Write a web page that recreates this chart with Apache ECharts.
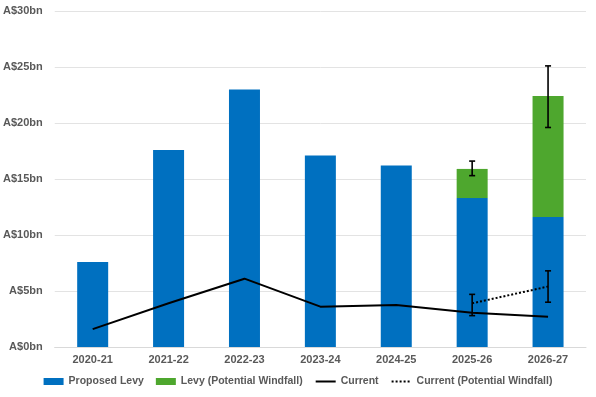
<!DOCTYPE html>
<html><head><meta charset="utf-8">
<script src="https://cdn.jsdelivr.net/npm/echarts@6/dist/echarts.min.js"></script>
<style>html,body{margin:0;padding:0;background:#fff}#c{width:596px;height:397px}</style>
</head><body><div id="c"></div>
<script>
const categories = ['2020-21','2021-22','2022-23','2023-24','2024-25','2025-26','2026-27'];
const proposedLevy = [7.6, 17.6, 23.0, 17.1, 16.2, 13.3, 11.6];
const levyWindfall = [null, null, null, null, null, 2.6, 10.8];
const current = [1.6, 3.9, 6.1, 3.6, 3.75, 3.05, 2.7];
const currentWindfall = [null, null, null, null, null, 3.9, 5.4];
// error bars: [categoryIndex, low, high]
const levyErrors = [[5, 15.3, 16.6], [6, 19.6, 25.1]];
const currentErrors = [[5, 2.8, 4.7], [6, 4.0, 6.8]];
const yTicks = [0, 5, 10, 15, 20, 25, 30];

const font = 'Liberation Sans';
const txt = '#595959';

function errRender(params, api) {
  const x = api.value(0), lo = api.value(1), hi = api.value(2);
  const p1 = api.coord([x, hi]), p2 = api.coord([x, lo]);
  const cap = 3;
  const st = {stroke: '#000', lineWidth: 1.6};
  return {type: 'group', children: [
    {type: 'line', shape: {x1: p1[0], y1: p1[1], x2: p2[0], y2: p2[1]}, style: st},
    {type: 'line', shape: {x1: p1[0]-cap, y1: p1[1], x2: p1[0]+cap, y2: p1[1]}, style: st},
    {type: 'line', shape: {x1: p2[0]-cap, y1: p2[1], x2: p2[0]+cap, y2: p2[1]}, style: st}
  ]};
}

const chart = echarts.init(document.getElementById('c'), null, {renderer: 'canvas'});
chart.setOption({
  animation: false,
  grid: {left: 53, right: 10, top: 11, bottom: 50},
  legend: {
    bottom: 5, left: 'center', itemGap: 12, itemWidth: 20, itemHeight: 7,
    textStyle: {fontFamily: font, fontSize: 10.5, color: txt, fontWeight: 'bold'},
    itemStyle: {borderWidth: 0},
    data: [
      {name: 'Proposed Levy', icon: 'rect'},
      {name: 'Levy (Potential Windfall)', icon: 'rect'},
      {name: 'Current', itemStyle: {opacity: 0}},
      {name: 'Current (Potential Windfall)', itemStyle: {opacity: 0}}
    ]
  },
  xAxis: {
    type: 'category', data: categories,
    axisLine: {show: true, lineStyle: {color: '#d9d9d9', width: 1}},
    axisTick: {show: false},
    axisLabel: {fontFamily: font, fontSize: 11, color: txt, fontWeight: 'bold', margin: 7}
  },
  yAxis: {
    type: 'value', min: 0, max: 30, interval: 5,
    axisLine: {show: false}, axisTick: {show: false},
    splitLine: {lineStyle: {color: '#e3e3e3', width: 1}},
    axisLabel: {fontFamily: font, fontSize: 11, color: txt, fontWeight: 'bold', margin: 12,
      formatter: v => 'A$' + v + 'bn'}
  },
  series: [
    {name: 'Proposed Levy', type: 'bar', stack: 'levy', data: proposedLevy, barWidth: 31,
     itemStyle: {color: '#0070C0'}},
    {name: 'Levy (Potential Windfall)', type: 'bar', stack: 'levy', data: levyWindfall, barWidth: 31,
     itemStyle: {color: '#4EA72E'}},
    {name: 'Current', type: 'line', data: current, symbol: 'none', z: 5,
     lineStyle: {color: '#000', width: 2}, itemStyle: {color: '#000'}},
    {name: 'Current (Potential Windfall)', type: 'line', data: currentWindfall, symbol: 'none', z: 5,
     lineStyle: {color: '#000', width: 2, type: [2, 2]}, itemStyle: {color: '#000'}},
    {type: 'custom', renderItem: errRender, data: levyErrors, z: 10, encode: {x: 0, y: [1, 2]}},
    {type: 'custom', renderItem: errRender, data: currentErrors, z: 10, encode: {x: 0, y: [1, 2]}}
  ]
});
</script></body></html>
